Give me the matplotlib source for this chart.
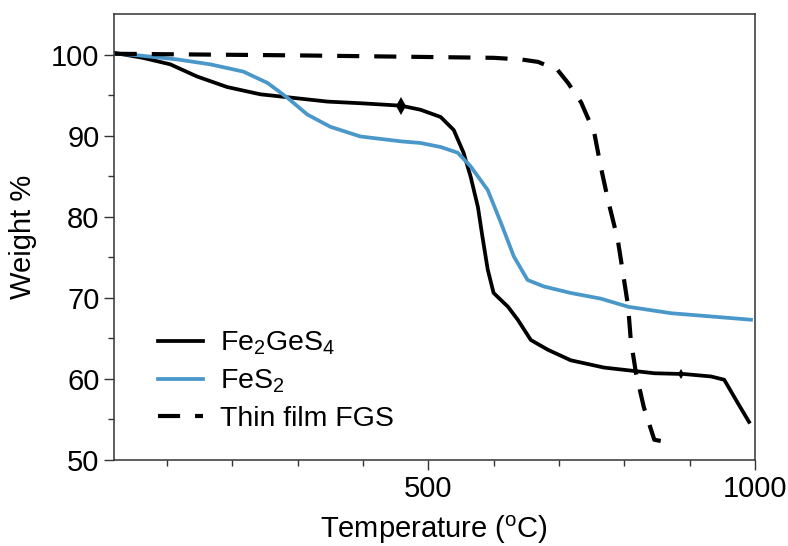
import numpy as np
import matplotlib
matplotlib.use("Agg")
import matplotlib.pyplot as plt

plt.rcParams['font.family'] = ['Liberation Sans', 'DejaVu Sans']
plt.rcParams['mathtext.fontset'] = 'custom'
plt.rcParams['mathtext.rm'] = 'Liberation Sans'
plt.rcParams['mathtext.it'] = 'Liberation Sans'

# Fe2GeS4
t_fgs = [20, 63, 105, 146, 192, 243, 289, 346, 396, 458, 488, 519, 539, 554, 565, 576,
         583, 591, 600, 622, 637, 657, 683, 718, 769, 846, 892, 933, 953, 974, 991]
w_fgs = [100.2, 99.6, 98.8, 97.3, 96.0, 95.1, 94.7, 94.2, 94.0, 93.7, 93.2, 92.3, 90.7, 87.9, 84.9, 81.2,
         77.5, 73.5, 70.6, 68.9, 67.3, 64.8, 63.6, 62.3, 61.4, 60.7, 60.6, 60.3, 59.9, 57.0, 54.7]

# FeS2
t_fes = [20, 44, 116, 166, 217, 254, 284, 315, 350, 396, 458, 488, 519, 545, 565, 591,
         611, 631, 652, 677, 718, 764, 806, 872, 918, 994]
w_fes = [100.1, 100.0, 99.4, 98.8, 97.9, 96.5, 94.7, 92.6, 91.1, 89.9, 89.3, 89.1, 88.6, 87.9, 86.2, 83.3,
         79.3, 75.1, 72.2, 71.4, 70.6, 69.9, 68.9, 68.1, 67.8, 67.3]

# thin film FGS
t_film = [20, 300, 600, 642, 668, 698, 714, 734, 754, 764, 775, 790, 798,
          806, 810, 818, 830, 846, 872]
w_film = [100.1, 99.9, 99.6, 99.4, 99.1, 98.1, 96.5, 94.1, 90.4, 86.2, 82.1, 77.2, 73.1,
          68.9, 64.8, 60.7, 56.5, 52.5, 52.1]

# little markers on the Fe2GeS4 trace
t_mark = [458, 887]
w_mark = [93.7, 60.6]

fig = plt.figure(figsize=(7.88, 5.46), dpi=100)
ax = fig.add_axes([0.1447, 0.1575, 0.8133, 0.8168])

ax.plot(t_fgs, w_fgs, color='black', lw=2.7, label='Fe$_2$GeS$_4$')
ax.plot(t_fes, w_fes, color='#4a97c9', lw=2.7, label='FeS$_2$')
ax.plot(t_film, w_film, color='black', lw=3, dashes=(5.3, 3.6), label='Thin film FGS')
ax.plot(t_mark[:1], w_mark[:1], 'd', color='black', ms=9, mew=0)
ax.plot(t_mark[1:], w_mark[1:], 'd', color='black', ms=5, mew=0)

ax.set_xlim(19, 1000)
ax.set_ylim(50, 105)
ax.set_xticks([500, 1000])
ax.set_xticks([100, 200, 300, 400, 600, 700, 800, 900], minor=True)
ax.set_yticks([50, 60, 70, 80, 90, 100])
ax.set_yticks([55, 65, 75, 85, 95], minor=True)
ax.tick_params(which='major', length=7, width=1, labelsize=21, color='#333333')
ax.tick_params(which='minor', length=4, width=1, color='#333333')
for s in ax.spines.values():
    s.set_color('#333333')
    s.set_linewidth(1.1)

ax.set_xlabel('Temperature ($^{\\mathrm{o}}$C)', fontsize=21, labelpad=8)
ax.set_ylabel('Weight %', fontsize=21, labelpad=10)

ax.legend(loc='lower left', bbox_to_anchor=(0.028, 0.005), frameon=False, fontsize=20.5,
          handlelength=1.6, handletextpad=0.6, labelspacing=0.38)

fig.savefig('out.png', dpi=100)
